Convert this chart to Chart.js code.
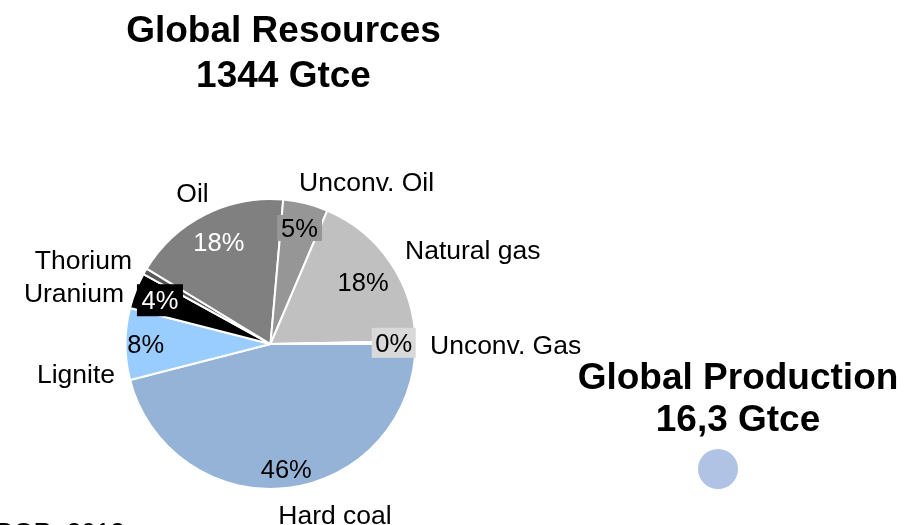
<!DOCTYPE html>
<html><head><meta charset="utf-8">
<script src="https://cdn.jsdelivr.net/npm/chart.js@4/dist/chart.umd.min.js"></script>
<style>
html,body{margin:0;padding:0;background:#fff;overflow:hidden}
#wrap{position:relative;width:916px;height:525px;overflow:hidden}
#main{position:absolute;left:0;top:0}
#prod{position:absolute;left:696px;top:447px}
</style></head><body>
<div id="wrap"><canvas id="main" width="916" height="525"></canvas><canvas id="prod" width="44" height="44"></canvas></div>
<script>
// ---- data ----
const categories = ['Hard coal', 'Lignite', 'Uranium', 'Thorium', 'Oil', 'Unconv. Oil', 'Natural gas', 'Unconv. Gas'];
const shares = [46, 8, 4, 0.7, 17.7, 5, 18.3, 0.3];
const resourcesTitle = ['Global Resources', '1344 Gtce'];
const productionTitle = ['Global Production', '16,3 Gtce'];
const productionLabel = ['Global Production'];
const productionValue = [16.3];
const sourceNote = 'BGR, 2012';

// ---- styles ----
const sliceColors = ['#95B3D7', '#99CCFF', '#000000', '#595959', '#808080', '#969696', '#C0C0C0', '#D9D9D9'];
const FONT = '"Liberation Sans", Arial, sans-serif';
// percent label placement: radial factor along mid-angle, text colour, optional box
const pctStyle = [
  {f: 0.865, color: '#000'},
  {f: 0.86, color: '#000'},
  {f: 0.82, color: '#fff', bg: '#000', box: [46, 32]},
  null,
  {f: 0.79, color: '#fff'},
  {f: 0.825, color: '#000', bg: '#969696', box: [45, 26]},
  {f: 0.77, color: '#000'},
  {f: 0.85, color: '#000', bg: '#D9D9D9', box: [44, 30]}
];
// category label placement relative to pie centre, in units of radius (baseline y)
const catStyle = [
  {dx: 0.445, dy: 1.241, align: 'center'},
  {dx: -1.072, dy: 0.269, align: 'right'},
  {dx: -1.010, dy: -0.290, align: 'right'},
  {dx: -0.955, dy: -0.517, align: 'right'},
  {dx: -0.538, dy: -0.979, align: 'center'},
  {dx: 0.197, dy: -1.055, align: 'left'},
  {dx: 0.928, dy: -0.586, align: 'left'},
  {dx: 1.100, dy: 0.069, align: 'left'}
];

const labelPlugin = {
  id: 'pieLabels',
  afterDatasetsDraw(chart) {
    const ctx = chart.ctx;
    const meta = chart.getDatasetMeta(0);
    const data = chart.data.datasets[0].data;
    const total = data.reduce((a, b) => a + b, 0);
    ctx.save();
    meta.data.forEach((arc, i) => {
      const p = arc.getProps(['x', 'y', 'startAngle', 'endAngle', 'outerRadius'], true);
      const mid = (p.startAngle + p.endAngle) / 2;
      const st = pctStyle[i];
      if (st) {
        const cx = p.x + Math.cos(mid) * p.outerRadius * st.f;
        const cy = p.y + Math.sin(mid) * p.outerRadius * st.f;
        if (st.bg) {
          ctx.fillStyle = st.bg;
          ctx.fillRect(cx - st.box[0] / 2, cy - st.box[1] / 2, st.box[0], st.box[1]);
        }
        ctx.font = '25.5px ' + FONT;
        ctx.fillStyle = st.color;
        ctx.textAlign = 'center';
        ctx.textBaseline = 'alphabetic';
        ctx.fillText(Math.round(data[i] / total * 100) + '%', cx, cy + 0.358 * 25.5);
      }
      const cs = catStyle[i];
      ctx.font = '26.5px ' + FONT;
      ctx.fillStyle = '#000';
      ctx.textAlign = cs.align;
      ctx.textBaseline = 'alphabetic';
      ctx.fillText(chart.data.labels[i], p.x + cs.dx * p.outerRadius, p.y + cs.dy * p.outerRadius);
    });
    // titles
    ctx.font = 'bold 37px ' + FONT;
    ctx.textAlign = 'center';
    ctx.fillStyle = '#000';
    ctx.fillText(resourcesTitle[0], 283.5, 42);
    ctx.fillText(resourcesTitle[1], 283.5, 87);
    ctx.fillText(productionTitle[0], 738, 389);
    ctx.fillText(productionTitle[1], 738, 431);
    ctx.font = '26px ' + FONT;
    ctx.textAlign = 'left';
    ctx.fillText(sourceNote, -4, 541);
    ctx.restore();
  }
};

new Chart(document.getElementById('main'), {
  type: 'pie',
  data: {
    labels: categories,
    datasets: [{
      data: shares,
      backgroundColor: sliceColors,
      borderColor: '#ffffff',
      borderWidth: 2
    }]
  },
  options: {
    responsive: false,
    animation: false,
    rotation: 90,
    layout: {padding: {left: 124.5, top: 198, right: 499.5, bottom: 35}},
    plugins: {legend: {display: false}, tooltip: {enabled: false}, title: {display: false}},
    events: []
  },
  plugins: [labelPlugin]
});

new Chart(document.getElementById('prod'), {
  type: 'pie',
  data: {
    labels: productionLabel,
    datasets: [{data: productionValue, backgroundColor: ['#B0C3E4'], borderWidth: 0}]
  },
  options: {
    responsive: false,
    animation: false,
    layout: {padding: 2},
    plugins: {legend: {display: false}, tooltip: {enabled: false}},
    events: []
  }
});
</script>
</body></html>
